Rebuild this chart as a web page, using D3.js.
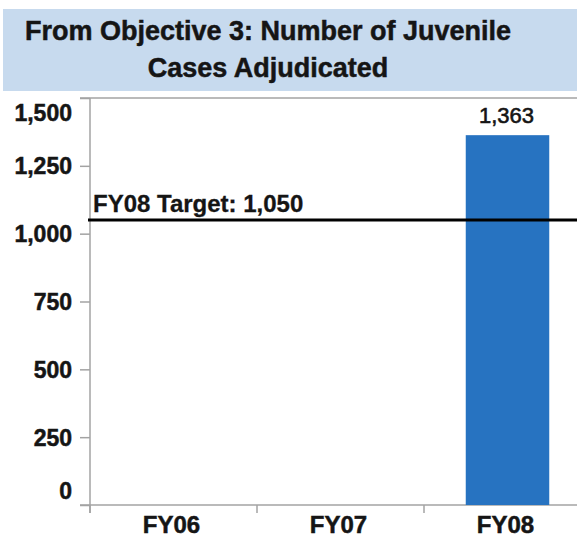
<!DOCTYPE html>
<html>
<head>
<meta charset="utf-8">
<script src="https://cdn.jsdelivr.net/npm/d3@7"></script>
<style>
  html, body { margin: 0; padding: 0; background: #ffffff; }
  svg { display: block; font-family: "Liberation Sans", Arial, sans-serif; }
</style>
</head>
<body>
<svg id="chart" width="577" height="538"></svg>
<script>
// Chart data
const titleLines = ["From Objective 3: Number of Juvenile", "Cases Adjudicated"];
const categories = ["FY06", "FY07", "FY08"];
const values = [null, null, 1363];
const yTicks = [0, 250, 500, 750, 1000, 1250, 1500];
const targetValue = 1050;
const targetLabel = "FY08 Target: 1,050";

const svg = d3.select("#chart");
const fmt = d3.format(",");
const ink = "#151515";

// Title band
svg.append("rect")
  .attr("x", 3).attr("y", 9).attr("width", 574).attr("height", 82)
  .attr("fill", "#c7daee");

svg.append("g").selectAll("text")
  .data(titleLines)
  .join("text")
  .attr("x", 268)
  .attr("y", (d, i) => 39.5 + i * 37.5)
  .attr("text-anchor", "middle")
  .attr("font-size", 27)
  .attr("font-weight", "bold")
  .attr("fill", ink)
  .attr("stroke", ink).attr("stroke-width", 0.5)
  .text(d => d);

// Scales
const y = d3.scaleLinear().domain([0, 1500]).range([505, 98]);
const xBand = d3.scaleBand().domain(categories).range([90, 591]);

const axisColor = "#a3a3a3";

// Top border of plot area
svg.append("line")
  .attr("x1", 80).attr("x2", 577)
  .attr("y1", y(1500)).attr("y2", y(1500))
  .attr("stroke", axisColor).attr("stroke-width", 1.5);

// Y axis
const yAxis = svg.append("g")
  .attr("transform", "translate(90,0)")
  .call(d3.axisLeft(y).tickValues(yTicks).tickSize(10).tickPadding(8).tickFormat(fmt));
yAxis.select(".domain").remove();
yAxis.selectAll(".tick line").attr("stroke", axisColor).attr("stroke-width", 1.5);
yAxis.selectAll(".tick text")
  .attr("font-size", 23)
  .attr("font-weight", "bold")
  .attr("font-family", "Liberation Sans, Arial, sans-serif")
  .attr("fill", ink)
  .attr("stroke", ink).attr("stroke-width", 0.5)
  .attr("dy", "0.35em")
  // end labels are nudged inward so they sit inside the plot height
  .attr("y", d => d === 1500 ? 14 : (d === 0 ? -15 : 0));

svg.append("line")
  .attr("x1", 90).attr("x2", 90)
  .attr("y1", y(1500)).attr("y2", 513)
  .attr("stroke", axisColor).attr("stroke-width", 1.5);

// X axis baseline and category separators
svg.append("line")
  .attr("x1", 80).attr("x2", 577)
  .attr("y1", y(0)).attr("y2", y(0))
  .attr("stroke", axisColor).attr("stroke-width", 1.5);

svg.append("g").selectAll("line")
  .data(categories)
  .join("line")
  .attr("x1", d => xBand(d)).attr("x2", d => xBand(d))
  .attr("y1", y(0)).attr("y2", 513)
  .attr("stroke", axisColor).attr("stroke-width", 1.5);

svg.append("g").selectAll("text")
  .data(categories)
  .join("text")
  .attr("x", d => xBand(d) + xBand.bandwidth() / 2 - 2)
  .attr("y", 533)
  .attr("text-anchor", "middle")
  .attr("font-size", 24)
  .attr("font-weight", "bold")
  .attr("fill", ink)
  .attr("stroke", ink).attr("stroke-width", 0.5)
  .text(d => d);

// Bars
const barData = categories.map((c, i) => ({ c, v: values[i] })).filter(d => d.v != null);
const barW = xBand.bandwidth() * 0.5;

svg.append("g").selectAll("rect")
  .data(barData)
  .join("rect")
  .attr("x", d => xBand(d.c) + (xBand.bandwidth() - barW) / 2)
  .attr("y", d => y(d.v))
  .attr("width", barW)
  .attr("height", d => y(0) - y(d.v))
  .attr("fill", "#2773c1");

svg.append("g").selectAll("text")
  .data(barData)
  .join("text")
  .attr("x", d => xBand(d.c) + xBand.bandwidth() / 2 - 1)
  .attr("y", d => y(d.v) - 12)
  .attr("text-anchor", "middle")
  .attr("font-size", 22)
  .attr("fill", ink)
  .attr("stroke", ink).attr("stroke-width", 0.6)
  .text(d => fmt(d.v));

// Target line
svg.append("line")
  .attr("x1", 88).attr("x2", 577)
  .attr("y1", y(targetValue)).attr("y2", y(targetValue))
  .attr("stroke", "#000000").attr("stroke-width", 3);

svg.append("text")
  .attr("x", 93)
  .attr("y", y(targetValue) - 8)
  .attr("font-size", 24)
  .attr("font-weight", "bold")
  .attr("fill", ink)
  .attr("stroke", ink).attr("stroke-width", 0.3)
  .text(targetLabel);
</script>
</body>
</html>
